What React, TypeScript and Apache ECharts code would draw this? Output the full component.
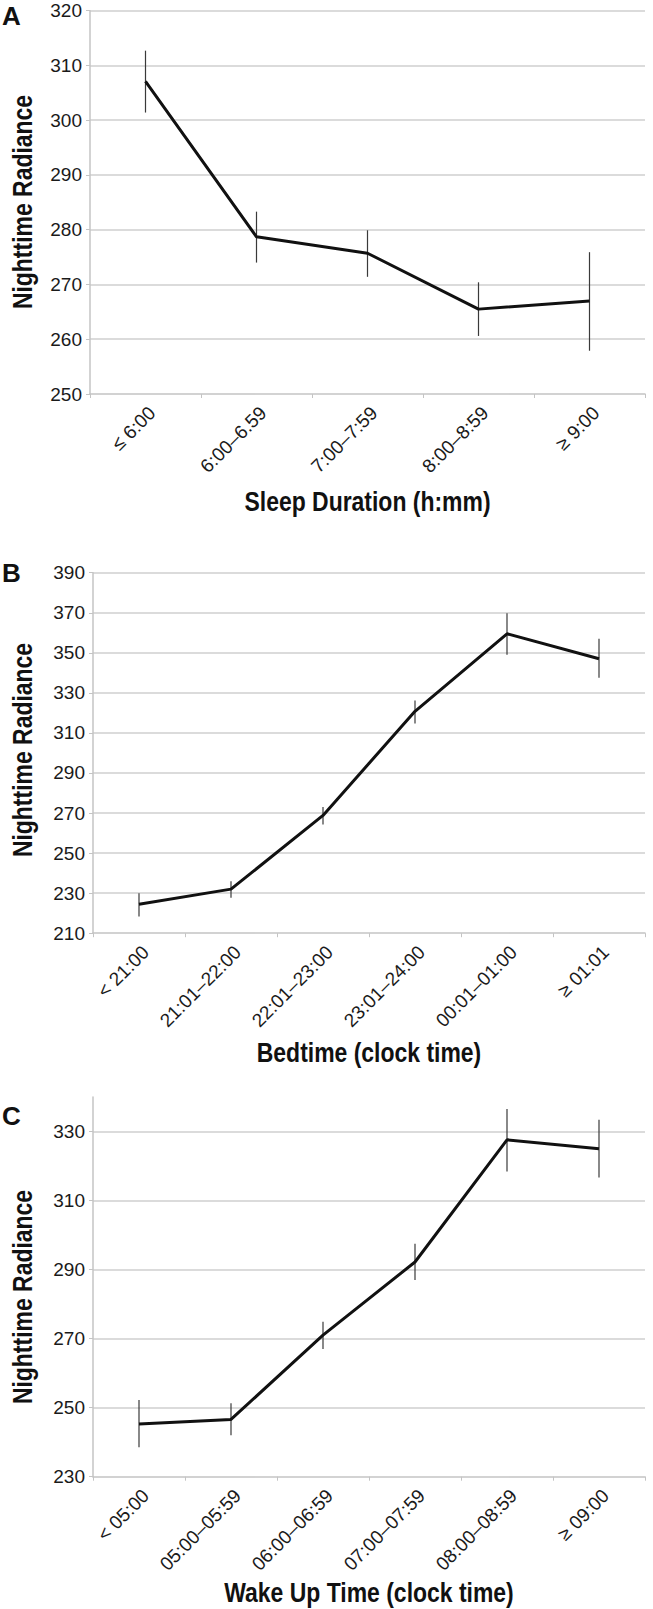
import React, { useEffect, useRef } from "react";
import * as echarts from "echarts";

// Panel A – Sleep duration
const sleepCategories = ["≤ 6:00", "6:00–6.59", "7:00–7:59", "8:00–8:59", "≥ 9:00"];
const sleepMean = [307.1, 278.7, 275.7, 265.5, 267.0];
const sleepLow = [301.4, 274.0, 271.4, 260.6, 257.9];
const sleepHigh = [312.7, 283.3, 279.9, 270.4, 275.9];

// Panel B – Bedtime
const bedCategories = ["< 21:00", "21:01–22:00", "22:01–23:00", "23:01–24:00", "00:01–01:00", "≥ 01:01"];
const bedMean = [224.5, 232.0, 268.8, 320.8, 359.5, 347.0];
const bedLow = [218.3, 227.7, 264.3, 314.7, 349.0, 337.5];
const bedHigh = [230.0, 236.0, 273.0, 326.2, 369.8, 357.0];

// Panel C – Wake up time
const wakeCategories = ["< 05:00", "05:00–05:59", "06:00–06:59", "07:00–07:59", "08:00–08:59", "≥ 09:00"];
const wakeMean = [245.3, 246.6, 271.0, 292.2, 327.6, 325.0];
const wakeLow = [238.5, 242.0, 267.0, 287.0, 318.4, 316.7];
const wakeHigh = [252.2, 251.3, 274.9, 297.5, 336.5, 333.4];

// Axis scales
const yMin = [250, 210, 230];
const yMax = [320, 390, 340];
const yStep = [10, 20, 20];
const xTitles = ["Sleep Duration (h:mm)", "Bedtime (clock time)", "Wake Up Time (clock time)"];
const yTitle = "Nighttime Radiance";
const panelLetters = ["A", "B", "C"];

const FONT = '"Liberation Sans", Arial, Helvetica, sans-serif';

export default function App() {
  const ref = useRef<HTMLDivElement>(null);

  useEffect(() => {
    if (!ref.current) return;
    const chart = echarts.init(ref.current, undefined, { renderer: "svg" });

    const grids = [
      { left: 90, right: 8, top: 10.7, height: 383.3 },
      { left: 93, right: 8, top: 572.7, height: 360.5 },
      { left: 93, right: 8, top: 1097, height: 379.7 },
    ];
    const cats = [sleepCategories, bedCategories, wakeCategories];
    const means = [sleepMean, bedMean, wakeMean];
    const lows = [sleepLow, bedLow, wakeLow];
    const highs = [sleepHigh, bedHigh, wakeHigh];
    const xTitleY = [500.7, 1052, 1592];
    const yTitleY = [202, 750, 1297];
    const letterY = [15.5, 573, 1116];

    const xAxis = cats.map((c, i) => ({
      type: "category",
      gridIndex: i,
      data: c,
      boundaryGap: true,
      axisLine: { show: true, lineStyle: { color: "#c4c4c4", width: 1.5 } },
      axisTick: { show: true, length: 4, lineStyle: { color: "#c4c4c4" } },
      axisLabel: {
        rotate: 45,
        margin: 9,
        interval: 0,
        verticalAlign: "top",
        fontFamily: FONT,
        fontSize: 19,
        color: "#1a1a1a",
      },
      splitLine: { show: false },
    }));

    const yAxis = [0, 1, 2].map((i) => ({
      type: "value",
      gridIndex: i,
      min: yMin[i],
      max: yMax[i],
      interval: yStep[i],
      axisLine: { show: true, lineStyle: { color: "#c4c4c4", width: 1.5 } },
      axisTick: { show: true, length: 4, lineStyle: { color: "#c4c4c4" } },
      axisLabel: {
        margin: 8,
        fontFamily: FONT,
        fontSize: 19,
        color: "#1a1a1a",
        showMaxLabel: i === 2 ? false : true,
      },
      splitLine: {
        show: true,
        showMinLine: false,
        showMaxLine: i === 2 ? false : true,
        lineStyle: { color: "#cfcfcf", width: 1.5 },
      },
    }));

    const series: any[] = [];
    [0, 1, 2].forEach((i) => {
      series.push({
        type: "custom",
        xAxisIndex: i,
        yAxisIndex: i,
        z: 1,
        encode: { x: 0, y: [1, 2] },
        data: lows[i].map((l, k) => [k, l, highs[i][k]]),
        renderItem: (params: any, api: any) => {
          const x = api.value(0);
          const p1 = api.coord([x, api.value(1)]);
          const p2 = api.coord([x, api.value(2)]);
          return {
            type: "line",
            shape: { x1: p1[0], y1: p1[1], x2: p2[0], y2: p2[1] },
            style: { stroke: "#3a3a3a", lineWidth: 1.2 },
          };
        },
      });
      series.push({
        type: "line",
        xAxisIndex: i,
        yAxisIndex: i,
        z: 2,
        data: means[i],
        symbol: "none",
        lineStyle: { color: "#111", width: 3 },
      });
    });

    const graphic: any[] = [];
    [0, 1, 2].forEach((i) => {
      const g = grids[i];
      const cx = (g.left + (653 - g.right)) / 2;
      graphic.push({
        type: "text",
        x: cx,
        y: xTitleY[i],
        scaleX: 0.82,
        style: {
          text: xTitles[i],
          font: `bold 28px ${FONT}`,
          fill: "#111",
          align: "center",
          verticalAlign: "middle",
        },
      });
      graphic.push({
        type: "text",
        x: 22,
        y: yTitleY[i],
        rotation: Math.PI / 2,
        scaleX: 0.82,
        style: {
          text: yTitle,
          font: `bold 28px ${FONT}`,
          fill: "#111",
          align: "center",
          verticalAlign: "middle",
        },
      });
      graphic.push({
        type: "text",
        x: 2,
        y: letterY[i],
        style: {
          text: panelLetters[i],
          font: `bold 26px ${FONT}`,
          fill: "#111",
          align: "left",
          verticalAlign: "middle",
        },
      });
    });

    chart.setOption({
      animation: false,
      backgroundColor: "#fff",
      grid: grids,
      xAxis,
      yAxis,
      series,
      graphic,
    });

    return () => chart.dispose();
  }, []);

  return (
    <div
      ref={ref}
      style={{ position: "absolute", left: 0, top: 0, width: 653, height: 1609, background: "#fff" }}
    />
  );
}
